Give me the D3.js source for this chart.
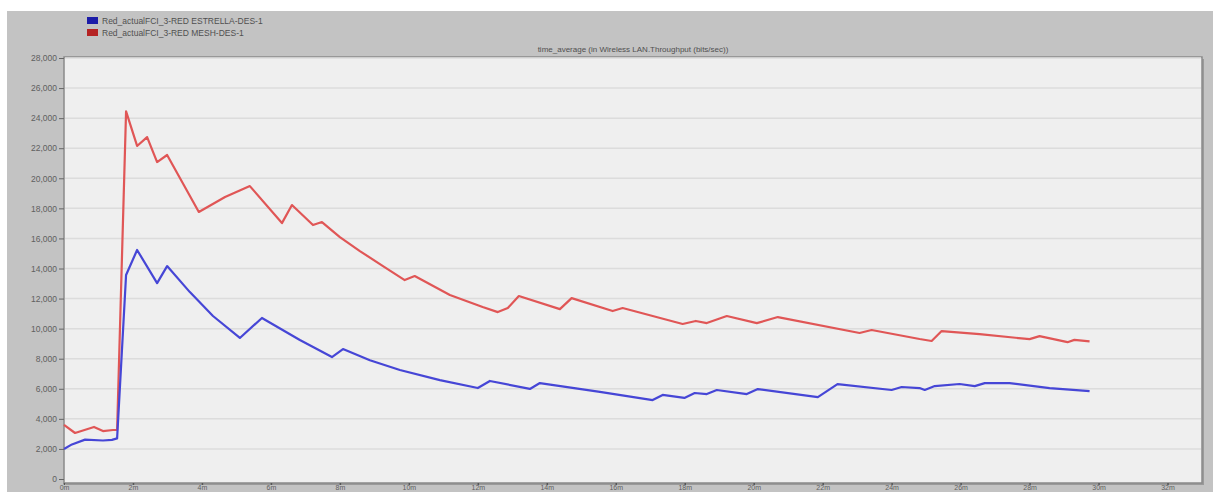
<!DOCTYPE html>
<html>
<head>
<meta charset="utf-8">
<script src="https://d3js.org/d3.v7.min.js"></script>
<style>
  body { margin: 0; background: #fff; }
  svg { display: block; font-family: "Liberation Sans", Arial, sans-serif; }
</style>
</head>
<body>
<div id="chart"></div>
<script>
// series names (legend)
var seriesNames = ["Red_actualFCI_3-RED ESTRELLA-DES-1", "Red_actualFCI_3-RED MESH-DES-1"];
var chartTitle = "time_average (in Wireless LAN.Throughput (bits/sec))";

// time in minutes, value in bits/sec
var meshTime = [0, 0.32, 0.87, 1.13, 1.42, 1.54, 1.80, 2.12, 2.41, 2.70, 2.99, 3.91, 4.67, 5.39, 6.32, 6.61, 7.22, 7.48, 8.00, 8.58, 9.25, 9.88, 10.17, 11.19, 12.14, 12.58, 12.87, 13.19, 14.38, 14.72, 15.91, 16.20, 17.94, 18.32, 18.64, 19.22, 20.09, 20.70, 23.07, 23.42, 24.81, 25.16, 25.45, 26.55, 28.00, 28.29, 29.10, 29.30, 29.74];
var meshValue = [3600, 3060, 3460, 3190, 3260, 3260, 24450, 22150, 22740, 21080, 21550, 17760, 18750, 19480, 17020, 18220, 16890, 17090, 16090, 15160, 14160, 13230, 13500, 12240, 11440, 11100, 11370, 12170, 11300, 12030, 11170, 11370, 10310, 10510, 10370, 10840, 10370, 10770, 9710, 9910, 9310, 9180, 9840, 9640, 9300, 9500, 9100, 9250, 9150];

var starTime = [0, 0.23, 0.61, 1.13, 1.39, 1.54, 1.80, 2.12, 2.70, 2.99, 3.65, 4.32, 5.10, 5.74, 6.84, 7.77, 8.09, 8.87, 9.74, 10.90, 12.00, 12.35, 13.51, 13.80, 15.54, 17.07, 17.36, 17.99, 18.29, 18.64, 18.93, 19.80, 20.12, 21.86, 22.43, 24.00, 24.29, 24.81, 24.96, 25.25, 25.97, 26.41, 26.70, 27.42, 28.58, 29.74];
var starValue = [2000, 2300, 2620, 2560, 2600, 2700, 13570, 15230, 13030, 14160, 12430, 10840, 9380, 10710, 9240, 8110, 8640, 7900, 7250, 6580, 6050, 6520, 5990, 6380, 5800, 5250, 5590, 5390, 5720, 5650, 5920, 5650, 5980, 5450, 6310, 5920, 6120, 6050, 5920, 6180, 6320, 6180, 6380, 6380, 6050, 5850];

var yTicks = [0, 2000, 4000, 6000, 8000, 10000, 12000, 14000, 16000, 18000, 20000, 22000, 24000, 26000, 28000];
var xTicks = [0, 2, 4, 6, 8, 10, 12, 14, 16, 18, 20, 22, 24, 26, 28, 30, 32];

var width = 1213;
var height = 492;

var plotLeft = 64;
var plotRight = 1202;
var plotTop = 57;
var plotBottom = 483;

var svg = d3.select("#chart")
  .append("svg")
  .attr("width", width)
  .attr("height", height);

// gray frame
svg.append("rect")
  .attr("x", 7).attr("y", 11)
  .attr("width", width - 7).attr("height", height - 11)
  .attr("fill", "#c3c3c3");

// legend
var legendColors = ["#1c1ca8", "#b52323"];
seriesNames.forEach(function(name, i) {
  svg.append("rect")
    .attr("x", 87).attr("y", 17 + i * 12)
    .attr("width", 11).attr("height", 7)
    .attr("fill", legendColors[i]);
  svg.append("text")
    .attr("x", 102).attr("y", 23.5 + i * 12)
    .attr("font-size", 8.5)
    .attr("fill", "#505050")
    .text(name);
});

// title
svg.append("text")
  .attr("x", (plotLeft + plotRight) / 2)
  .attr("y", 52)
  .attr("text-anchor", "middle")
  .attr("font-size", 8)
  .attr("fill", "#505050")
  .text(chartTitle);

// plot area with shadow
svg.append("rect")
  .attr("x", plotLeft + 2).attr("y", plotTop + 2)
  .attr("width", plotRight - plotLeft).attr("height", plotBottom - plotTop)
  .attr("fill", "#9a9a9a");
svg.append("rect")
  .attr("x", plotLeft).attr("y", plotTop)
  .attr("width", plotRight - plotLeft).attr("height", plotBottom - plotTop)
  .attr("fill", "#efefef")
  .attr("stroke", "#8a8a8a")
  .attr("stroke-width", 1.5);

var xScale = d3.scaleLinear().domain([0, 33]).range([plotLeft, plotRight]);
var yScale = d3.scaleLinear().domain([0, 28000]).range([479, 58]);

// grid
svg.append("g")
  .selectAll("line")
  .data(yTicks.slice(1))
  .enter()
  .append("line")
  .attr("x1", plotLeft + 1).attr("x2", plotRight - 1)
  .attr("y1", function(d) { return yScale(d); })
  .attr("y2", function(d) { return yScale(d); })
  .attr("stroke", "#dcdcdc")
  .attr("stroke-width", 1.5);

// axes
var yAxis = d3.axisLeft(yScale)
  .tickValues(yTicks)
  .tickFormat(d3.format(","))
  .tickSize(5)
  .tickPadding(2);
var yG = svg.append("g")
  .attr("transform", "translate(" + plotLeft + ",0)")
  .call(yAxis);
yG.select(".domain").remove();
yG.selectAll("line").attr("stroke", "#666");
yG.selectAll("text").attr("font-size", 8.5).attr("fill", "#606060")
  .attr("font-family", "'Liberation Sans', Arial, sans-serif");

// x labels sit right at the bottom edge, as in the cropped reference
var xAxis = d3.axisBottom(xScale)
  .tickValues(xTicks)
  .tickFormat(function(d) { return d + "m"; })
  .tickSize(2)
  .tickPadding(0);
var xG = svg.append("g")
  .attr("transform", "translate(0," + plotBottom + ")")
  .call(xAxis);
xG.select(".domain").remove();
xG.selectAll("line").attr("stroke", "#555").attr("stroke-width", 1.5);
xG.selectAll("text").attr("font-size", 7).attr("fill", "#606060")
  .attr("font-family", "'Liberation Sans', Arial, sans-serif");

// lines
var line = d3.line()
  .x(function(d) { return xScale(d[0]); })
  .y(function(d) { return yScale(d[1]); });

var meshData = meshTime.map(function(t, i) { return [t, meshValue[i]]; });
var starData = starTime.map(function(t, i) { return [t, starValue[i]]; });

svg.append("path")
  .datum(meshData)
  .attr("d", line)
  .attr("fill", "none")
  .attr("stroke", "#e05656")
  .attr("stroke-width", 2.2)
  .attr("stroke-linejoin", "round");

svg.append("path")
  .datum(starData)
  .attr("d", line)
  .attr("fill", "none")
  .attr("stroke", "#4646d6")
  .attr("stroke-width", 2.2)
  .attr("stroke-linejoin", "round");
</script>
</body>
</html>
